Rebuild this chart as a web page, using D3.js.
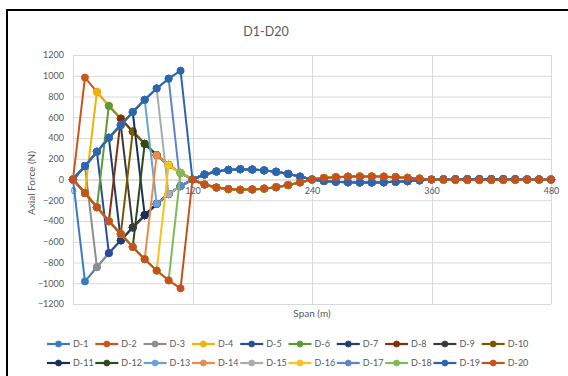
<!DOCTYPE html>
<html>
<head>
<meta charset="utf-8">
<script src="https://d3js.org/d3.v7.min.js"></script>
<style>
  body { margin: 0; background: #fff; }
  svg { display: block; }
  text { font-family: Lato, "Open Sans", sans-serif; fill: #595959; }
</style>
</head>
<body>
<svg id="chart" width="568" height="376"></svg>
<script>
// Load positions along the span (m)
const spanM = [0,12,24,36,48,60,72,84,96,108,120,132,144,156,168,180,192,204,216,228,240,
               252,264,276,288,300,312,324,336,348,360,372,384,396,408,420,432,444,456,468,480];

const xTicks = [0, 120, 240, 360, 480];
const yTicks = [-1200, -1000, -800, -600, -400, -200, 0, 200, 400, 600, 800, 1000, 1200];

const seriesNames = ["D-1","D-2","D-3","D-4","D-5","D-6","D-7","D-8","D-9","D-10",
                     "D-11","D-12","D-13","D-14","D-15","D-16","D-17","D-18","D-19","D-20"];

const seriesColors = ["#3A7BC0","#C8561A","#8E8E8E","#EFB300","#2B4C9B","#5E9B37",
                      "#1D3F6E","#832F0B","#3A3A3A","#7A5800","#1A2E5C","#2C4A1A",
                      "#6AA2D8","#EB8B4B","#ABABAB","#F8C21A","#5F84C8","#80BA58",
                      "#2A65AE","#C5521C"];

// Axial force in each diagonal (N) for a unit load at each position
const diag1  = [0,-982,-845,-710,-587,-462,-344,-234,-140,-63,0,48,77,92,99,96,88,74,54,28,0,-14,-22,-27,-29,-29,-27,-22,-16,-8,0,2,3,4,4,4,4,3,2,1,0];
const diag2  = [0,982,845,710,587,462,344,234,140,63,0,-48,-77,-92,-99,-96,-88,-74,-54,-28,0,14,22,27,29,29,27,22,16,8,0,-2,-3,-4,-4,-4,-4,-3,-2,-1,0];
const diag3  = [0,130,-845,-710,-587,-462,-344,-234,-140,-63,0,48,77,92,99,96,88,74,54,28,0,-14,-22,-27,-29,-29,-27,-22,-16,-8,0,2,3,4,4,4,4,3,2,1,0];
const diag4  = [0,-130,845,710,587,462,344,234,140,63,0,-48,-77,-92,-99,-96,-88,-74,-54,-28,0,14,22,27,29,29,27,22,16,8,0,-2,-3,-4,-4,-4,-4,-3,-2,-1,0];
const diag5  = [0,130,267,-710,-587,-462,-344,-234,-140,-63,0,48,77,92,99,96,88,74,54,28,0,-14,-22,-27,-29,-29,-27,-22,-16,-8,0,2,3,4,4,4,4,3,2,1,0];
const diag6  = [0,-130,-267,710,587,462,344,234,140,63,0,-48,-77,-92,-99,-96,-88,-74,-54,-28,0,14,22,27,29,29,27,22,16,8,0,-2,-3,-4,-4,-4,-4,-3,-2,-1,0];
const diag7  = [0,130,267,402,-587,-462,-344,-234,-140,-63,0,48,77,92,99,96,88,74,54,28,0,-14,-22,-27,-29,-29,-27,-22,-16,-8,0,2,3,4,4,4,4,3,2,1,0];
const diag8  = [0,-130,-267,-402,587,462,344,234,140,63,0,-48,-77,-92,-99,-96,-88,-74,-54,-28,0,14,22,27,29,29,27,22,16,8,0,-2,-3,-4,-4,-4,-4,-3,-2,-1,0];
const diag9  = [0,130,267,402,525,-462,-344,-234,-140,-63,0,48,77,92,99,96,88,74,54,28,0,-14,-22,-27,-29,-29,-27,-22,-16,-8,0,2,3,4,4,4,4,3,2,1,0];
const diag10 = [0,-130,-267,-402,-525,462,344,234,140,63,0,-48,-77,-92,-99,-96,-88,-74,-54,-28,0,14,22,27,29,29,27,22,16,8,0,-2,-3,-4,-4,-4,-4,-3,-2,-1,0];
const diag11 = [0,130,267,402,525,650,-344,-234,-140,-63,0,48,77,92,99,96,88,74,54,28,0,-14,-22,-27,-29,-29,-27,-22,-16,-8,0,2,3,4,4,4,4,3,2,1,0];
const diag12 = [0,-130,-267,-402,-525,-650,344,234,140,63,0,-48,-77,-92,-99,-96,-88,-74,-54,-28,0,14,22,27,29,29,27,22,16,8,0,-2,-3,-4,-4,-4,-4,-3,-2,-1,0];
const diag13 = [0,130,267,402,525,650,768,-234,-140,-63,0,48,77,92,99,96,88,74,54,28,0,-14,-22,-27,-29,-29,-27,-22,-16,-8,0,2,3,4,4,4,4,3,2,1,0];
const diag14 = [0,-130,-267,-402,-525,-650,-768,234,140,63,0,-48,-77,-92,-99,-96,-88,-74,-54,-28,0,14,22,27,29,29,27,22,16,8,0,-2,-3,-4,-4,-4,-4,-3,-2,-1,0];
const diag15 = [0,130,267,402,525,650,768,878,-140,-63,0,48,77,92,99,96,88,74,54,28,0,-14,-22,-27,-29,-29,-27,-22,-16,-8,0,2,3,4,4,4,4,3,2,1,0];
const diag16 = [0,-130,-267,-402,-525,-650,-768,-878,140,63,0,-48,-77,-92,-99,-96,-88,-74,-54,-28,0,14,22,27,29,29,27,22,16,8,0,-2,-3,-4,-4,-4,-4,-3,-2,-1,0];
const diag17 = [0,130,267,402,525,650,768,878,972,-63,0,48,77,92,99,96,88,74,54,28,0,-14,-22,-27,-29,-29,-27,-22,-16,-8,0,2,3,4,4,4,4,3,2,1,0];
const diag18 = [0,-130,-267,-402,-525,-650,-768,-878,-972,63,0,-48,-77,-92,-99,-96,-88,-74,-54,-28,0,14,22,27,29,29,27,22,16,8,0,-2,-3,-4,-4,-4,-4,-3,-2,-1,0];
const diag19 = [0,130,267,402,525,650,768,878,972,1049,0,48,77,92,99,96,88,74,54,28,0,-14,-22,-27,-29,-29,-27,-22,-16,-8,0,2,3,4,4,4,4,3,2,1,0];
const diag20 = [0,-130,-267,-402,-525,-650,-768,-878,-972,-1049,0,-48,-77,-92,-99,-96,-88,-74,-54,-28,0,14,22,27,29,29,27,22,16,8,0,-2,-3,-4,-4,-4,-4,-3,-2,-1,0];

const seriesValues = [diag1,diag2,diag3,diag4,diag5,diag6,diag7,diag8,diag9,diag10,
                      diag11,diag12,diag13,diag14,diag15,diag16,diag17,diag18,diag19,diag20];

const svg = d3.select("#chart");

// Chart frame
svg.append("rect")
  .attr("x", 7).attr("y", 10).attr("width", 620).attr("height", 420)
  .attr("fill", "#fff").attr("stroke", "#000").attr("stroke-width", 2);

const plot = { left: 73, right: 551, top: 55, bottom: 304 };

const x = d3.scaleLinear().domain([0, 480]).range([plot.left, plot.right]);
const y = d3.scaleLinear().domain([-1200, 1200]).range([plot.bottom, plot.top]);

// Gridlines
const grid = svg.append("g");
grid.selectAll("line.h").data(yTicks.filter(v => v !== 0)).join("line")
  .attr("x1", plot.left).attr("x2", plot.right)
  .attr("y1", d => y(d) + 0.5).attr("y2", d => y(d) + 0.5)
  .attr("stroke", "#D9D9D9").attr("stroke-width", 1);
grid.selectAll("line.v").data(xTicks).join("line")
  .attr("y1", plot.top).attr("y2", plot.bottom)
  .attr("x1", d => Math.round(x(d)) + 0.5).attr("x2", d => Math.round(x(d)) + 0.5)
  .attr("stroke", "#D9D9D9").attr("stroke-width", 1);

// Vertical axis labels
const yAxis = d3.axisLeft(y).tickValues(yTicks).tickSize(0).tickPadding(9).tickFormat(d3.format("d"));
const gy = svg.append("g").attr("transform", `translate(${plot.left},0)`).call(yAxis);
gy.select(".domain").remove();
gy.selectAll("text").style("font-size", "9px").style("font-family", "Lato, sans-serif").attr("fill", "#595959");

// Horizontal axis through zero
const xAxis = d3.axisBottom(x).tickValues(xTicks).tickSize(0).tickPadding(8).tickFormat(d3.format("d"));
const gx = svg.append("g").attr("transform", `translate(0,${y(0)})`).call(xAxis);
gx.select(".domain").attr("stroke", "#BFBFBF").attr("stroke-width", 1);
gx.selectAll("text").style("font-size", "9px").style("font-family", "Lato, sans-serif").attr("fill", "#595959");

// Series lines and markers
const line = d3.line().x((d, i) => x(spanM[i])).y(d => y(d));
seriesValues.forEach((vals, s) => {
  const g = svg.append("g");
  g.append("path").datum(vals)
    .attr("d", line).attr("fill", "none")
    .attr("stroke", seriesColors[s]).attr("stroke-width", 2).attr("stroke-linejoin", "round");
  g.selectAll("circle").data(vals).join("circle")
    .attr("cx", (d, i) => x(spanM[i])).attr("cy", d => y(d)).attr("r", 3.6)
    .attr("fill", seriesColors[s]).attr("stroke", seriesColors[s]).attr("stroke-width", 0.8);
});

// Titles
svg.append("text").attr("x", 266).attr("y", 36).attr("text-anchor", "middle")
  .style("font-size", "12.5px").attr("fill", "#404040").text("D1-D20");
svg.append("text").attr("x", 312).attr("y", 317).attr("text-anchor", "middle")
  .style("font-size", "10px").text("Span (m)");
svg.append("text").attr("transform", "translate(34.5,183) rotate(-90)").attr("text-anchor", "middle")
  .style("font-size", "10px").text("Axial Force (N)");

// Legend: two rows of ten
const legend = svg.append("g");
seriesNames.forEach((name, s) => {
  const col = s % 10, row = Math.floor(s / 10);
  const lx = 47 + col * 48.3, ly = row === 0 ? 344 : 363;
  const item = legend.append("g").attr("transform", `translate(${lx},${ly})`);
  item.append("line").attr("x1", 0).attr("x2", 23).attr("y1", 0).attr("y2", 0)
    .attr("stroke", seriesColors[s]).attr("stroke-width", 2.2);
  item.append("circle").attr("cx", 11.5).attr("cy", 0).attr("r", 3)
    .attr("fill", seriesColors[s]).attr("stroke", seriesColors[s]).attr("stroke-width", 0.8);
  item.append("text").attr("x", 26).attr("y", 3.3).style("font-size", "9px").text(name);
});
</script>
</body>
</html>
